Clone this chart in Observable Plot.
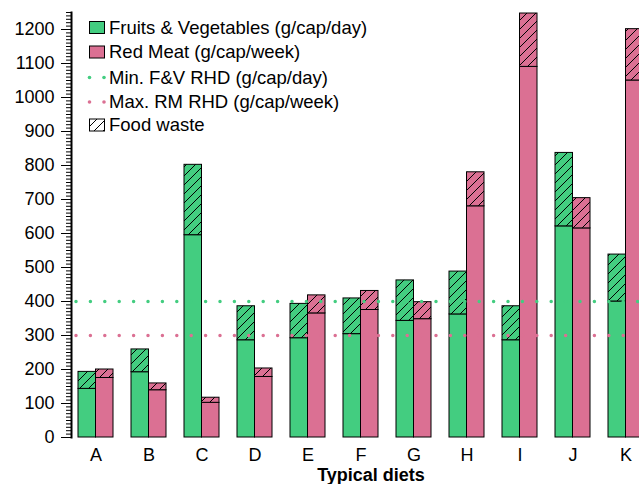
<!DOCTYPE html>
<html><head><meta charset="utf-8">
<script src="https://cdn.jsdelivr.net/npm/d3@7"></script>
<script src="https://cdn.jsdelivr.net/npm/@observablehq/plot@0.6"></script>
<style>
html,body{margin:0;padding:0;overflow:hidden;background:#fff;}
#wrap{position:relative;width:639px;height:484px;overflow:hidden;font-family:"Liberation Sans",Arial,sans-serif;}
#wrap svg{display:block;}
#legend{position:absolute;left:0;top:0;}
</style></head><body><div id="wrap"></div>
<script>
const diets = ["A","B","C","D","E","F","G","H","I","J","K"];
const fvBase  = [143, 192, 595, 286, 292, 304, 343, 362, 286, 621, 400];
const fvWaste = [ 50,  67, 207, 100, 101, 105, 119, 126, 100, 216, 138];
const rmBase  = [175, 139, 102, 178, 365, 375, 348, 680, 1090, 615, 1050];
const rmWaste = [ 25,  20,  15,  25,  53,  56,  50, 100,  157,  89,  151];
const fvMin = 400;
const rmMax = 300;
const yTicks = [0,100,200,300,400,500,600,700,800,900,1000,1100,1200];
const yMinorTicks = d3.range(0, 1251, 10);
const xTitle = "Typical diets";
const legendLabels = ["Fruits & Vegetables (g/cap/day)", "Red Meat (g/cap/week)", "Min. F&V RHD (g/cap/day)", "Max. RM RHD (g/cap/week)", "Food waste"];

const GREEN = "#43CD80", PINK = "#DB7093";

const fvRows = diets.map((d,i)=>({diet:d, base:fvBase[i], top:fvBase[i]+fvWaste[i]}));
const rmRows = diets.map((d,i)=>({diet:d, base:rmBase[i], top:rmBase[i]+rmWaste[i]}));

const defs = () => {
  const g = d3.create("svg:g");
  const p = g.append("defs").append("pattern")
    .attr("id","hatch").attr("patternUnits","userSpaceOnUse")
    .attr("width",9).attr("height",9);
  p.append("path").attr("d","M-2,11L11,-2M-2,2L2,-2M7,11L11,7")
    .attr("stroke","black").attr("stroke-width",1).attr("fill","none");
  return g.node();
};

const half = 17.5;
const chart = Plot.plot({
  width: 670, height: 484,
  marginLeft: 71, marginRight: 0, marginTop: 12, marginBottom: 47,
  x: {domain: diets, range: [66.5, 653.9], paddingInner: 0.345, paddingOuter: 0.1725, align: 0.5},
  y: {domain: [0, 1250]},
  style: {fontFamily: '"Liberation Sans", Arial, sans-serif', fontSize: "18px", color: "black", maxWidth: "none", overflow: "visible"},
  marks: [
    defs,
    Plot.barY(fvRows, {x:"diet", y1:0, y2:"base", fill:GREEN, stroke:"black", strokeWidth:1, insetRight: half}),
    Plot.barY(fvRows, {x:"diet", y1:"base", y2:"top", fill:GREEN, stroke:"none", insetRight: half}),
    Plot.barY(fvRows, {x:"diet", y1:"base", y2:"top", fill:"url(#hatch)", stroke:"black", strokeWidth:1, insetRight: half}),
    Plot.barY(rmRows, {x:"diet", y1:0, y2:"base", fill:PINK, stroke:"black", strokeWidth:1, insetLeft: half}),
    Plot.barY(rmRows, {x:"diet", y1:"base", y2:"top", fill:PINK, stroke:"none", insetLeft: half}),
    Plot.barY(rmRows, {x:"diet", y1:"base", y2:"top", fill:"url(#hatch)", stroke:"black", strokeWidth:1, insetLeft: half}),
    Plot.ruleY([fvMin], {stroke:GREEN, strokeWidth:3.5, strokeDasharray:"0 14.4", strokeLinecap:"round", strokeDashoffset:9.4}),
    Plot.ruleY([rmMax], {stroke:PINK, strokeWidth:3.5, strokeDasharray:"0 14.4", strokeLinecap:"round", strokeDashoffset:9.4}),
    Plot.axisY(yMinorTicks, {tickSize:5, tickFormat: () => "", label:null, strokeWidth:1}),
    Plot.axisY(yTicks, {tickSize:10, tickPadding:7, fontSize:18, label:null, strokeWidth:1, tickFormat: d => String(d)}),
    Plot.frame({anchor:"left", strokeWidth:2}),
    Plot.axisX({tickSize:0, tickPadding:11, fontSize:18, label:null}),
    Plot.text([xTitle], {frameAnchor:"bottom", dy:43, fontWeight:"bold", fontSize:18})
  ]
});
const wrap = document.getElementById("wrap");
wrap.appendChild(chart);

// legend overlay
const leg = d3.select(wrap).append("svg").attr("id","legend").attr("width",400).attr("height",140)
  .style("font-family",'"Liberation Sans", Arial, sans-serif').style("font-size","18.5px");
const ldefs = leg.append("defs").append("pattern").attr("id","hatchL").attr("patternUnits","userSpaceOnUse")
  .attr("width",9).attr("height",9);
ldefs.append("path").attr("d","M-2,11L11,-2M-2,2L2,-2M7,11L11,7").attr("stroke","black").attr("stroke-width",1);
const rowY = [27.5, 52, 77.5, 102, 125];
legendLabels.forEach((lab, i) => {
  const y = rowY[i];
  const g = leg.append("g");
  if (i === 0 || i === 1) {
    g.append("rect").attr("x",89.5).attr("y",y-6).attr("width",15).attr("height",12)
      .attr("fill", i===0?GREEN:PINK).attr("stroke","black").attr("stroke-width",1);
  } else if (i === 2 || i === 3) {
    [89.5, 104].forEach(cx => g.append("circle").attr("cx",cx).attr("cy",y).attr("r",1.8).attr("fill", i===2?GREEN:PINK));
  } else {
    g.append("rect").attr("x",89.5).attr("y",y-6).attr("width",15).attr("height",12)
      .attr("fill","url(#hatchL)").attr("stroke","black").attr("stroke-width",1);
  }
  g.append("text").attr("x",109).attr("y",y).attr("dy","0.35em").text(lab);
});
</script></body></html>
